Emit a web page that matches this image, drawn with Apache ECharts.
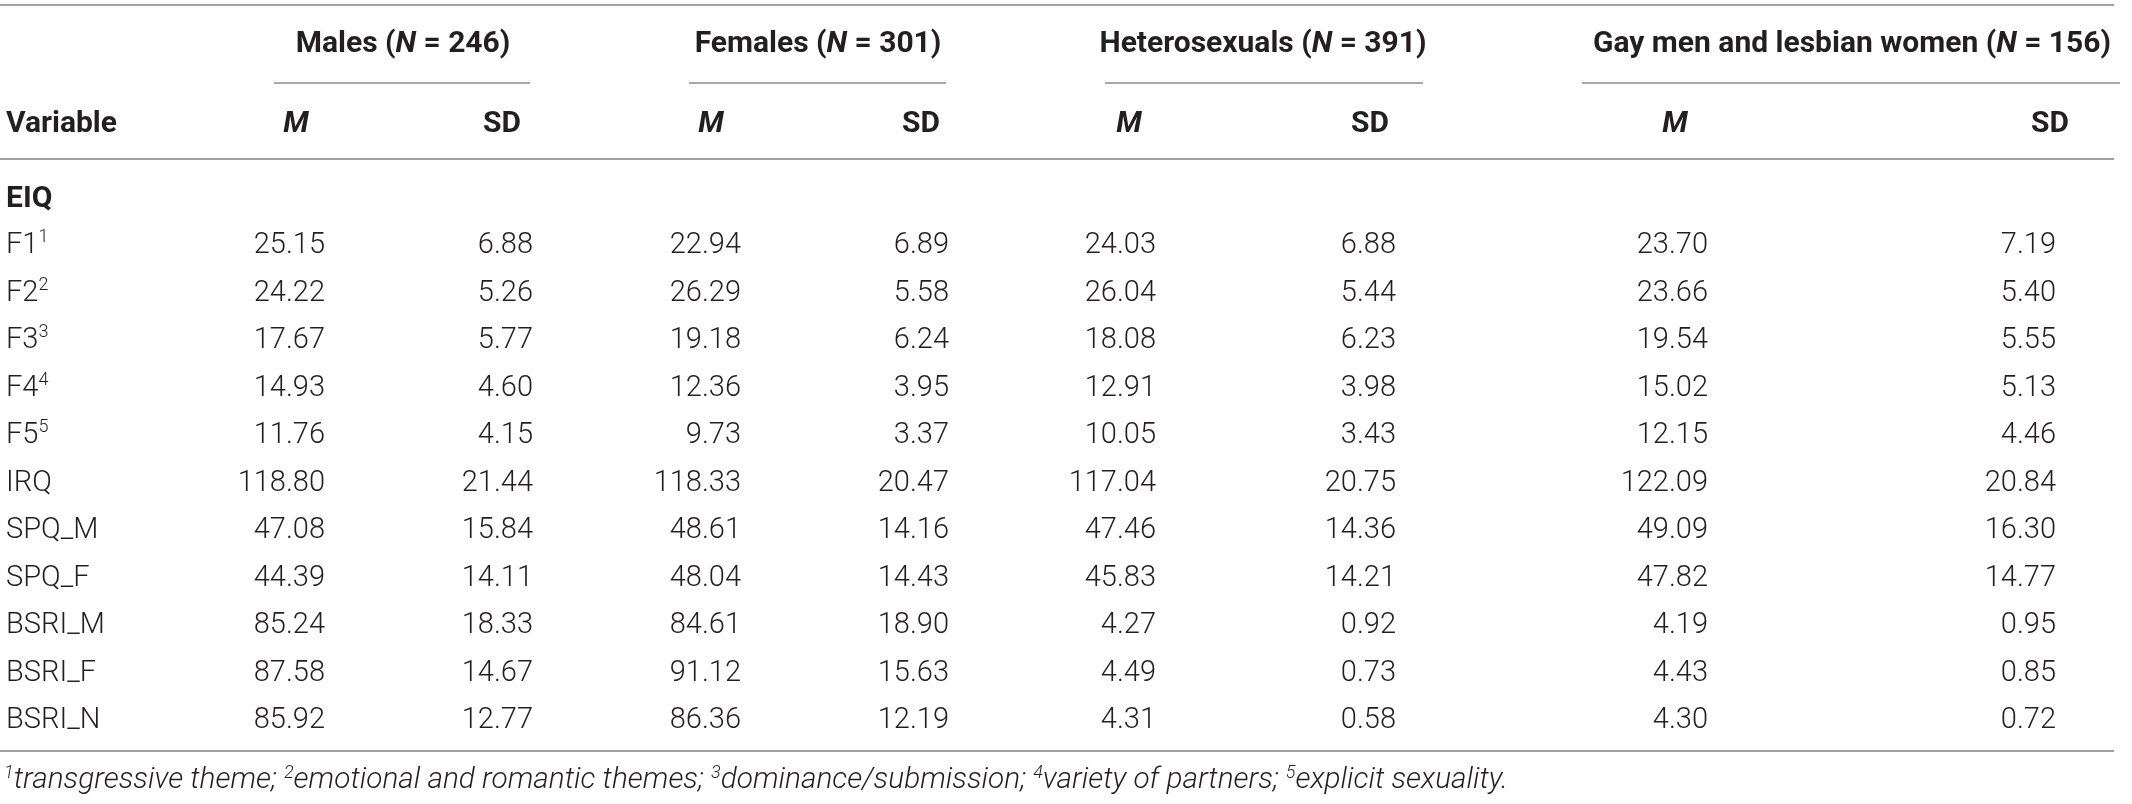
<!DOCTYPE html>
<html>
<head>
<meta charset="utf-8">
<script src="https://cdn.jsdelivr.net/npm/echarts@6/dist/echarts.min.js"></script>
<style>
html, body { margin: 0; padding: 0; background: #fff; }
#container { width: 2132px; height: 804px; }
</style>
</head>
<body>
<div id="container"></div>
<script>
// table rows
var rowLabels = ['EIQ', 'F1', 'F2', 'F3', 'F4', 'F5', 'IRQ', 'SPQ_M', 'SPQ_F', 'BSRI_M', 'BSRI_F', 'BSRI_N'];
var rowSups = ['', '1', '2', '3', '4', '5', '', '', '', '', '', ''];

// group headers
var groupNames = ['Males', 'Females', 'Heterosexuals', 'Gay men and lesbian women'];
var groupN = [246, 301, 391, 156];
var statNames = ['M', 'SD'];

// values (EIQ row has none -> null)
var maleM = [null, 25.15, 24.22, 17.67, 14.93, 11.76, 118.80, 47.08, 44.39, 85.24, 87.58, 85.92];
var maleSD = [null, 6.88, 5.26, 5.77, 4.60, 4.15, 21.44, 15.84, 14.11, 18.33, 14.67, 12.77];
var femaleM = [null, 22.94, 26.29, 19.18, 12.36, 9.73, 118.33, 48.61, 48.04, 84.61, 91.12, 86.36];
var femaleSD = [null, 6.89, 5.58, 6.24, 3.95, 3.37, 20.47, 14.16, 14.43, 18.90, 15.63, 12.19];
var heteroM = [null, 24.03, 26.04, 18.08, 12.91, 10.05, 117.04, 47.46, 45.83, 4.27, 4.49, 4.31];
var heteroSD = [null, 6.88, 5.44, 6.23, 3.98, 3.43, 20.75, 14.36, 14.21, 0.92, 0.73, 0.58];
var gayM = [null, 23.70, 23.66, 19.54, 15.02, 12.15, 122.09, 49.09, 47.82, 4.19, 4.43, 4.30];
var gaySD = [null, 7.19, 5.40, 5.55, 5.13, 4.46, 20.84, 16.30, 14.77, 0.95, 0.85, 0.72];

var footnotes = ['transgressive theme', 'emotional and romantic themes', 'dominance/submission', 'variety of partners', 'explicit sexuality'];

// layout (pixels)
var columns = [maleM, maleSD, femaleM, femaleSD, heteroM, heteroSD, gayM, gaySD];
var colRight = [325, 533, 741, 949, 1156, 1396, 1708, 2056];
var statCenter = [296, 502, 711, 921, 1129, 1370, 1675, 2050];
var groupCenter = [403, 818, 1263, 1852];
var groupLine = [[274, 530], [689, 946], [1105, 1423], [1582, 2120]];
var textColor = '#231f20';
var ruleColor = '#a3a3a3';
var bodyFont = 'Roboto';
var bodySize = 29;
var headSize = 30;

var dom = document.getElementById('container');
var myChart = echarts.init(dom);

function buildCells() {
	var arr = [];
	for (var c = 0; c < columns.length; c++) {
		for (var r = 0; r < rowLabels.length; r++) {
			if (columns[c][r] == null) continue;
			arr.push([colRight[c], r, columns[c][r]]);
		}
	}
	return arr;
}

function buildGraphics() {
	var g = [];
	var rules = [5, 159, 751];
	rules.forEach(function (y) {
		g.push({ type: 'line', shape: { x1: 0, y1: y, x2: 2114, y2: y }, style: { stroke: ruleColor, lineWidth: 2 } });
	});
	for (var i = 0; i < groupNames.length; i++) {
		g.push({
			type: 'text', x: groupCenter[i], y: 44,
			style: {
				text: '{b|' + groupNames[i] + ' (}{bi|N}{b| = ' + groupN[i] + ')}',
				align: 'center', verticalAlign: 'middle',
				rich: {
					b: { fontFamily: bodyFont, fontWeight: 'bold', fontSize: headSize, fill: textColor },
					bi: { fontFamily: bodyFont, fontWeight: 'bold', fontStyle: 'italic', fontSize: headSize, fill: textColor }
				}
			}
		});
		g.push({ type: 'line', shape: { x1: groupLine[i][0], y1: 83, x2: groupLine[i][1], y2: 83 }, style: { stroke: '#8c8c8c', lineWidth: 1.5 } });
	}
	g.push({
		type: 'text', x: 6, y: 124,
		style: { text: 'Variable', fontFamily: bodyFont, fontWeight: 'bold', fontSize: headSize, fill: textColor, verticalAlign: 'middle' }
	});
	for (var k = 0; k < statCenter.length; k++) {
		var s = statNames[k % 2];
		g.push({
			type: 'text', x: statCenter[k], y: 124,
			style: {
				text: s, fontFamily: bodyFont, fontWeight: 'bold', fontStyle: s === 'M' ? 'italic' : 'normal',
				fontSize: headSize, fill: textColor, align: 'center', verticalAlign: 'middle'
			}
		});
	}
	var parts = [];
	for (var f = 0; f < footnotes.length; f++) {
		parts.push('{s|' + (f + 1) + '}{t|' + footnotes[f] + (f < footnotes.length - 1 ? '; ' : '.') + '}');
	}
	g.push({
		type: 'text', x: 4, y: 781,
		style: {
			text: parts.join(''), verticalAlign: 'middle',
			rich: {
				s: { fontFamily: bodyFont, fontWeight: 300, fontStyle: 'italic', fontSize: 18, lineHeight: 20, fill: textColor, verticalAlign: 'top' },
				t: { fontFamily: bodyFont, fontWeight: 300, fontStyle: 'italic', fontSize: 29.8, lineHeight: 34, fill: textColor }
			}
		}
	});
	return g;
}

option = {
	animation: false,
	grid: { left: 0, right: 0, top: 174.5, bottom: 59.5 },
	xAxis: { type: 'value', min: 0, max: 2132, show: false },
	yAxis: {
		type: 'category', inverse: true, data: rowLabels,
		axisLine: { show: false }, axisTick: { show: false }, splitLine: { show: false },
		axisLabel: {
			inside: true, margin: 6, align: 'left',
			formatter: function (v, i) {
				if (v === 'EIQ') return '{h|EIQ}';
				return rowSups[i] ? '{n|' + v + '}{s|' + rowSups[i] + '}' : '{n|' + v + '}';
			},
			rich: {
				h: { fontFamily: bodyFont, fontWeight: 'bold', fontSize: headSize, color: textColor, padding: [2, 0, 0, 0] },
				n: { fontFamily: bodyFont, fontWeight: 300, fontSize: bodySize, lineHeight: 34, color: textColor },
				s: { fontFamily: bodyFont, fontWeight: 300, fontSize: 18, lineHeight: 20, color: textColor, verticalAlign: 'top' }
			}
		}
	},
	graphic: buildGraphics(),
	series: [{
		type: 'custom',
		data: buildCells(),
		renderItem: function (params, api) {
			var p = api.coord([api.value(0), api.value(1)]);
			return {
				type: 'text', x: p[0], y: p[1],
				style: {
					text: api.value(2).toFixed(2), fontFamily: bodyFont, fontWeight: 300, fontSize: bodySize,
					fill: textColor, align: 'right', verticalAlign: 'middle'
				}
			};
		}
	}]
};

myChart.setOption(option);
</script>
</body>
</html>
